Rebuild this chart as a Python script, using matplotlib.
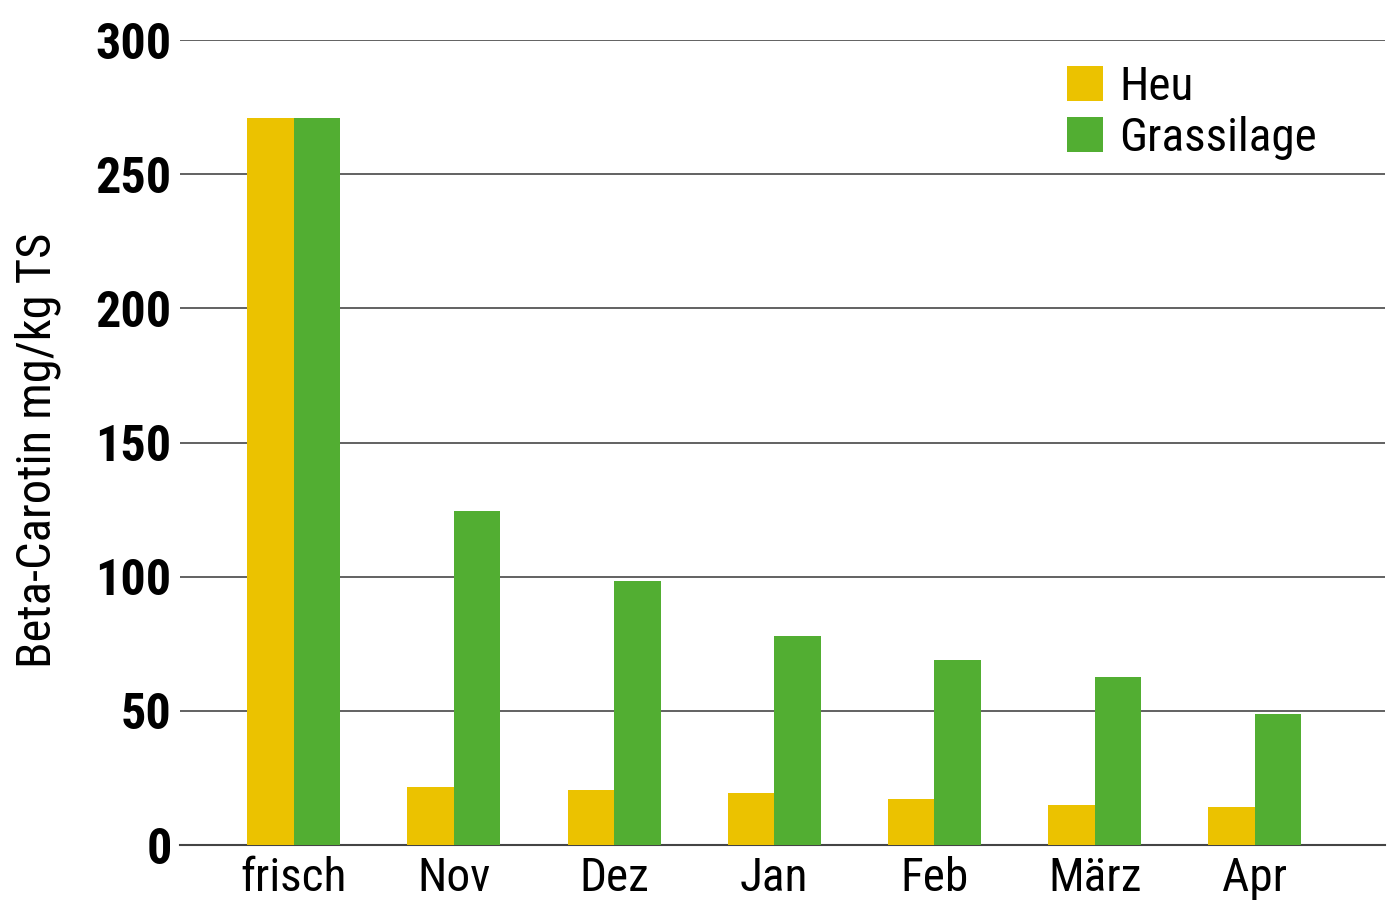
import matplotlib.pyplot as plt
import numpy as np
from matplotlib import font_manager

# Beta-Carotin in Heu und Grassilage
categories = ['frisch', 'Nov', 'Dez', 'Jan', 'Feb', 'März', 'Apr']
heu = [271, 21.5, 20.5, 19.5, 17, 15, 14]
grassilage = [271, 124.5, 98.5, 78, 69, 62.5, 49]
yticks = [0, 50, 100, 150, 200, 250, 300]


def wt(f):
    w = f.weight
    if isinstance(w, str):
        return {'bold': 700, 'normal': 400, 'regular': 400}.get(w, 400)
    return w


# look for a narrow font, Roboto Condensed first
fonts = [f for f in font_manager.fontManager.ttflist if f.style == 'normal']
cond = [f for f in fonts if 'roboto' in f.fname.lower() and 'condensed' in f.fname.lower()]
if not cond:
    cond = [f for f in fonts if 'Condensed' in f.name or 'Narrow' in f.name
            or 'condensed' in f.fname.lower()]
reg = [f for f in cond if wt(f) == 400]
bold = sorted([f for f in cond if wt(f) >= 700], key=wt)
reg_fp = font_manager.FontProperties(fname=reg[0].fname) if reg else \
    font_manager.FontProperties(family='DejaVu Sans', stretch='condensed')
bold_fp = font_manager.FontProperties(fname=bold[0].fname) if bold else \
    font_manager.FontProperties(family='DejaVu Sans', weight='bold')

fig = plt.figure(figsize=(14, 9.1), dpi=100)
ax = fig.add_axes([0.1286, 0.0714, 0.8604, 0.8846])

x = np.arange(len(categories))
w = 0.29
ax.bar(x - w / 2, heu, w, color='#ebc200', label='Heu', zorder=3)
ax.bar(x + w / 2, grassilage, w, color='#52ae32', label='Grassilage', zorder=3)

ax.set_xlim(-0.71, 6.81)
ax.set_ylim(0, 300)
ax.set_yticks(yticks)
ax.set_xticks(x)
ax.set_xticklabels(categories, fontproperties=reg_fp, fontsize=34)
ax.set_yticklabels([str(v) for v in yticks], fontproperties=bold_fp, fontsize=36)
ax.yaxis.grid(True, color='#555555', linewidth=1.3, zorder=0)
ax.tick_params(length=0)
ax.tick_params(axis='y', pad=6)
ax.tick_params(axis='x', pad=8)
for s in ['left', 'right', 'top']:
    ax.spines[s].set_visible(False)
ax.spines['bottom'].set_color('#444444')
ax.spines['bottom'].set_linewidth(1.5)

ax.set_ylabel('Beta-Carotin mg/kg TS', fontproperties=reg_fp, fontsize=35)
ax.yaxis.set_label_coords(-0.099, 0.49)

leg_fp = reg_fp.copy()
leg_fp.set_size(34)
ax.legend(loc='upper right', bbox_to_anchor=(0.979, 1.022), prop=leg_fp, frameon=False,
          handlelength=0.75, handleheight=0.75, handletextpad=0.35, labelspacing=0.15)

fig.savefig('out.png', dpi=100)
